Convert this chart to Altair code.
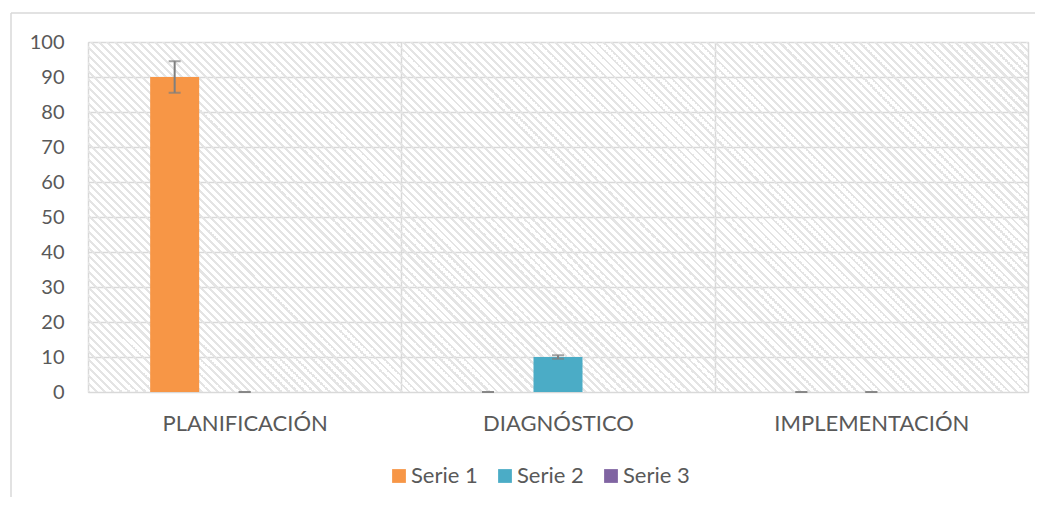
import altair as alt
import pandas as pd

categories = ["PLANIFICACIÓN", "DIAGNÓSTICO", "IMPLEMENTACIÓN"]
series_names = ["Serie 1", "Serie 2", "Serie 3"]
serie1 = [90, 0, 0]
serie2 = [0, 10, 0]
serie3 = [0, 0, 0]
error_pct = [0.05, 0.05, None]   # Serie 3 has no error bars
series_colors = ["#F79646", "#4BACC6", "#8064A2"]
y_ticks = [0, 10, 20, 30, 40, 50, 60, 70, 80, 90, 100]

rows = []
for sname, vals, pct in zip(series_names, [serie1, serie2, serie3], error_pct):
    for cat, v in zip(categories, vals):
        rows.append({
            "cat": cat, "serie": sname, "value": v,
            "lo": v - v * pct if pct is not None else None,
            "hi": v + v * pct if pct is not None else None,
            "has_err": pct is not None,
        })
df = pd.DataFrame(rows)
err_df = df[df["has_err"]].copy()

W, H = 940, 350
FONT = "Lato"
TXT = "#595959"
GRID = "#d9d9d9"

# diagonal hatch as a striped linear gradient (lines running top-left -> bottom-right)
r = H / W
s = (1 + r) / (1 + r * r)
L = W + H
period, gw = 8.0, 3.0
stops = []
k = 0
while k * period < L:
    a = k * period / L
    b = min((k * period + gw) / L, 1.0)
    c = min((k + 1) * period / L, 1.0)
    stops += [
        {"offset": a, "color": "#e4e4e4"},
        {"offset": b, "color": "#e4e4e4"},
        {"offset": b, "color": "rgba(255,255,255,0)"},
        {"offset": c, "color": "rgba(255,255,255,0)"},
    ]
    k += 1
hatch_fill = {"gradient": "linear", "x1": 0, "y1": 1, "x2": s, "y2": 1 - s * r, "stops": stops}

x_axis = alt.Axis(labelAngle=0, tickBand="extent", grid=True, gridColor=GRID,
                  gridWidth=1.5, ticks=False, domain=False, labelFont=FONT,
                  labelFontSize=22, labelColor=TXT, labelBaseline="alphabetic",
                  labelPadding=38, labelLimit=400)
y_axis = alt.Axis(values=y_ticks, grid=True, gridColor=GRID, gridWidth=1.5,
                  ticks=False, domain=False, labelFont=FONT, labelFontSize=20,
                  labelColor=TXT, labelPadding=24, labelOverlap=False)
x_scale = alt.Scale(paddingInner=0, paddingOuter=0)
xo_scale = alt.Scale(paddingInner=0.3, paddingOuter=0.888)
y_scale = alt.Scale(domain=[0, 100], nice=False)


def xenc():
    return alt.X("cat:N", sort=categories, title=None, scale=x_scale, axis=x_axis)


def xoenc():
    return alt.XOffset("serie:N", sort=series_names, scale=xo_scale)


hatch = alt.Chart(alt.Data(values=[{}])).mark_rect(fill=hatch_fill, strokeWidth=0).encode(
    x=alt.value(0), x2=alt.value(W), y=alt.value(0), y2=alt.value(H))

bars = alt.Chart(df).mark_bar(strokeWidth=0).encode(
    x=xenc(),
    xOffset=xoenc(),
    y=alt.Y("value:Q", scale=y_scale, title=None, axis=y_axis),
    color=alt.Color("serie:N", sort=series_names,
                    scale=alt.Scale(domain=series_names, range=series_colors),
                    legend=alt.Legend(title=None, orient="none", legendX=300, legendY=423,
                                      direction="horizontal", symbolType="square",
                                      symbolSize=190, symbolStrokeWidth=0,
                                      labelFont=FONT, labelFontSize=22, labelColor=TXT,
                                      labelOffset=1, columnPadding=16, padding=0)),
)

err = alt.Chart(err_df).mark_rule(color="#7f7f7f", strokeWidth=2).encode(
    x=xenc(), xOffset=xoenc(),
    y=alt.Y("lo:Q", scale=y_scale, title=None, axis=y_axis), y2="hi:Q")
cap_lo = alt.Chart(err_df).mark_tick(color="#7f7f7f", size=12, thickness=2, orient="horizontal").encode(
    x=xenc(), xOffset=xoenc(),
    y=alt.Y("lo:Q", scale=y_scale, title=None, axis=y_axis))
cap_hi = alt.Chart(err_df).mark_tick(color="#7f7f7f", size=12, thickness=2, orient="horizontal").encode(
    x=xenc(), xOffset=xoenc(),
    y=alt.Y("hi:Q", scale=y_scale, title=None, axis=y_axis))

border_top = alt.Chart(alt.Data(values=[{}])).mark_rule(color=GRID, strokeWidth=1.5).encode(
    x=alt.value(-77), x2=alt.value(960), y=alt.value(-29))
border_left = alt.Chart(alt.Data(values=[{}])).mark_rule(color=GRID, strokeWidth=1.5).encode(
    x=alt.value(-77), y=alt.value(-29), y2=alt.value(470))

chart = alt.layer(hatch, bars, err, cap_lo, cap_hi, border_top, border_left).properties(
    width=W, height=H,
    autosize=alt.AutoSizeParams(type="none"),
    padding={"left": 80, "top": 34, "right": 7, "bottom": 105},
    background="white",
).configure_view(stroke=GRID, strokeWidth=1.5).configure(font=FONT)

chart.save("out.html", embed_options={"renderer": "svg", "actions": False})
